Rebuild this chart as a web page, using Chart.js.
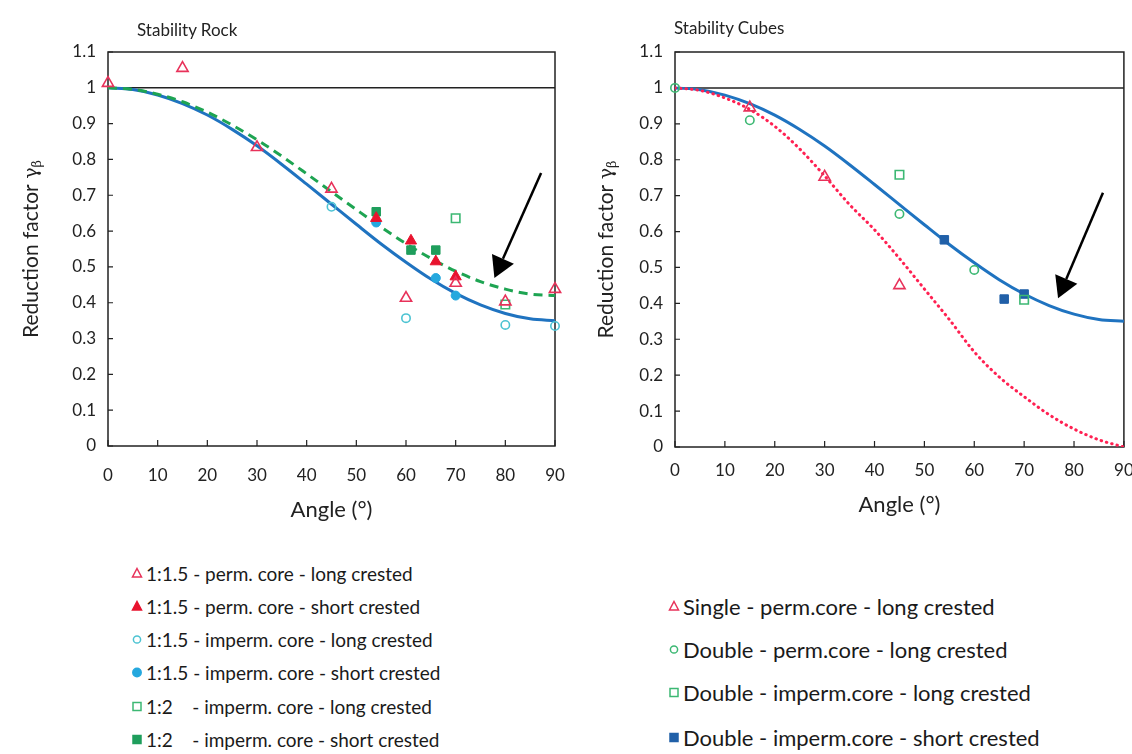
<!DOCTYPE html>
<html>
<head>
<meta charset="utf-8">
<script src="https://cdn.jsdelivr.net/npm/chart.js@4.4.1/dist/chart.umd.min.js"></script>
<style>
  html, body { margin: 0; padding: 0; background: #fff; }
  body { width: 1132px; height: 754px; position: relative; overflow: hidden; font-family: Lato, "Open Sans", sans-serif; color: #222; }
  canvas { position: absolute; top: 0; }
  #rock { left: 0; }
  #cubes { left: 570px; }
  .title { position: absolute; font-size: 17px; color: #222; white-space: nowrap; }
  .legend { position: absolute; }
  .legend .row { position: absolute; left: 0; height: 24px; white-space: pre; display: flex; align-items: center; color: #1a1a1a; }
  .legend svg { flex: none; }
</style>
</head>
<body>
<canvas id="rock" width="570" height="540"></canvas>
<canvas id="cubes" width="562" height="540"></canvas>
<div class="title" style="left:137px; top:19px;">Stability Rock</div>
<div class="title" style="left:674px; top:17px;">Stability Cubes</div>
<div class="legend" id="legRock" style="left:131px; top:0;"></div>
<div class="legend" id="legCubes" style="left:668px; top:0;"></div>
<script>
// ---- axis ticks ----
const angleTicks = [0, 10, 20, 30, 40, 50, 60, 70, 80, 90];
const factorTicks = [0, 0.1, 0.2, 0.3, 0.4, 0.5, 0.6, 0.7, 0.8, 0.9, 1, 1.1];

// ---- Stability Rock: measured points ----
const rockPermLongAngle   = [0, 15, 30, 45, 60, 70, 80, 90];
const rockPermLongValue   = [1.013, 1.055, 0.834, 0.718, 0.413, 0.455, 0.403, 0.438];
const rockPermShortAngle  = [54, 61, 66, 70];
const rockPermShortValue  = [0.636, 0.573, 0.515, 0.473];
const rockImpLongAngle    = [45, 60, 80, 90];
const rockImpLongValue    = [0.668, 0.357, 0.338, 0.335];
const rockImpShortAngle   = [54, 66, 70];
const rockImpShortValue   = [0.624, 0.469, 0.42];
const rock12LongAngle     = [70, 80];
const rock12LongValue     = [0.636, 0.395];
const rock12ShortAngle    = [54, 61, 66];
const rock12ShortValue    = [0.654, 0.547, 0.547];

// ---- Stability Cubes: measured points ----
const cubeSinglePermLongAngle  = [15, 30, 45];
const cubeSinglePermLongValue  = [0.945, 0.752, 0.45];
const cubeDoublePermLongAngle  = [0, 15, 45, 60];
const cubeDoublePermLongValue  = [1.0, 0.91, 0.649, 0.493];
const cubeDoubleImpLongAngle   = [45, 70];
const cubeDoubleImpLongValue   = [0.758, 0.41];
const cubeDoubleImpShortAngle  = [54, 66, 70];
const cubeDoubleImpShortValue  = [0.577, 0.412, 0.426];

// ---- design curves, read every 5 degrees ----
const curveAngle      = [0, 5, 10, 15, 20, 25, 30, 35, 40, 45, 50, 55, 60, 65, 70, 75, 80, 85, 90];
const curveBlue       = [1.0, 0.995, 0.98, 0.956, 0.924, 0.884, 0.838, 0.786, 0.731, 0.675, 0.619, 0.564, 0.513, 0.466, 0.426, 0.394, 0.37, 0.355, 0.35];
const curveGreenRock  = [1.0, 0.996, 0.982, 0.961, 0.932, 0.896, 0.855, 0.809, 0.76, 0.71, 0.66, 0.611, 0.565, 0.524, 0.488, 0.459, 0.438, 0.424, 0.42];
const curveRedCubes   = [1.0, 0.993, 0.972, 0.94, 0.893, 0.83, 0.755, 0.675, 0.605, 0.525, 0.44, 0.355, 0.265, 0.195, 0.14, 0.09, 0.05, 0.02, 0.0];
const referenceAngle  = [0, 90];
const referenceValue  = [1, 1];

// ---- legend labels ----
const rockLabels = [
  '1:1.5 - perm. core - long crested',
  '1:1.5 - perm. core - short crested',
  '1:1.5 - imperm. core - long crested',
  '1:1.5 - imperm. core - short crested',
  '1:2    - imperm. core - long crested',
  '1:2    - imperm. core - short crested'
];
const cubeLabels = [
  'Single - perm.core - long crested',
  'Double - perm.core - long crested',
  'Double - imperm.core - long crested',
  'Double - imperm.core - short crested'
];

const pts = (xs, ys) => xs.map((x, i) => ({ x, y: ys[i] }));

const RED_OPEN = '#e8325a', RED_FILL = '#e8132e';
const CYAN_OPEN = '#4cc3d2', CYAN_FILL = '#25a8de';
const GREEN_OPEN = '#3cb873', GREEN_FILL = '#1f9e5c';
const BLUE_LINE = '#1f73c0', BLUE_FILL = '#2160a8';
const GREEN_DASH = '#1ea452', RED_DOT = '#ff2152';

function marker(label, data, style, color, filled, radius) {
  return {
    label, data, type: 'scatter', order: 0, clip: false,
    pointStyle: style, pointRadius: radius, pointHoverRadius: radius,
    borderColor: color, pointBorderWidth: filled ? 1 : 1.6,
    backgroundColor: filled ? color : 'rgba(255,255,255,0)'
  };
}
function curve(label, data, color, width, dash, cap, order) {
  return {
    label, data, type: 'scatter', showLine: true, order,
    borderColor: color, borderWidth: width, borderDash: dash, borderCapStyle: cap,
    pointRadius: 0, pointHoverRadius: 0, cubicInterpolationMode: 'monotone', fill: false
  };
}

// frame, inside tick marks, axis titles and arrow annotation
const decor = {
  id: 'decor',
  beforeDatasetsDraw(chart) {
    const { ctx, chartArea: a, scales: { x, y } } = chart;
    ctx.save();
    ctx.strokeStyle = '#222';
    ctx.lineWidth = 1.5;
    ctx.strokeRect(a.left, a.top, a.right - a.left, a.bottom - a.top);
    ctx.lineWidth = 1.2;
    ctx.beginPath();
    angleTicks.forEach(v => { const px = x.getPixelForValue(v); ctx.moveTo(px, a.bottom); ctx.lineTo(px, a.bottom - 6); });
    factorTicks.forEach(v => { const py = y.getPixelForValue(v); ctx.moveTo(a.left, py); ctx.lineTo(a.left + 5, py); });
    ctx.stroke();
    ctx.restore();
  },
  afterDatasetsDraw(chart, args, opts) {
    const { ctx, chartArea: a, scales: { x, y } } = chart;
    ctx.save();
    // arrow
    const x0 = x.getPixelForValue(opts.arrowFrom[0]), y0 = y.getPixelForValue(opts.arrowFrom[1]);
    const x1 = x.getPixelForValue(opts.arrowTo[0]), y1 = y.getPixelForValue(opts.arrowTo[1]);
    const ang = Math.atan2(y1 - y0, x1 - x0), headLen = 21, headHalf = 12;
    const bx = x1 - Math.cos(ang) * headLen, by = y1 - Math.sin(ang) * headLen;
    ctx.strokeStyle = '#000'; ctx.fillStyle = '#000'; ctx.lineWidth = 2.5;
    ctx.beginPath(); ctx.moveTo(x0, y0); ctx.lineTo(bx, by); ctx.stroke();
    ctx.beginPath();
    ctx.moveTo(x1, y1);
    ctx.lineTo(bx + Math.sin(ang) * headHalf, by - Math.cos(ang) * headHalf);
    ctx.lineTo(bx - Math.sin(ang) * headHalf, by + Math.cos(ang) * headHalf);
    ctx.closePath(); ctx.fill();
    // axis titles
    ctx.fillStyle = '#222';
    ctx.font = '22px Lato, "Open Sans", sans-serif';
    ctx.textAlign = 'center'; ctx.textBaseline = 'middle';
    ctx.fillText('Angle (°)', (a.left + a.right) / 2, a.bottom + opts.xTitleGap);
    ctx.translate(opts.yTitleX, (a.top + a.bottom) / 2);
    ctx.rotate(-Math.PI / 2);
    const main = 'Reduction factor ';
    ctx.font = '21px Lato, "Open Sans", sans-serif';
    const w1 = ctx.measureText(main).width;
    ctx.font = '19px "DejaVu Serif", serif';
    const w2 = ctx.measureText('γ').width;
    ctx.font = '13px "DejaVu Serif", serif';
    const w3 = ctx.measureText('β').width;
    let sx = -(w1 + w2 + w3) / 2;
    ctx.textAlign = 'left';
    ctx.font = '21px Lato, "Open Sans", sans-serif';
    ctx.fillText(main, sx, 0); sx += w1;
    ctx.font = '19px "DejaVu Serif", serif';
    ctx.fillText('γ', sx, 1); sx += w2;
    ctx.font = '13px "DejaVu Serif", serif';
    ctx.fillText('β', sx, 7);
    ctx.restore();
  }
};

function makeChart(id, datasets, cfg) {
  return new Chart(document.getElementById(id), {
    type: 'scatter',
    data: { datasets },
    plugins: [decor],
    options: {
      responsive: false, animation: false, devicePixelRatio: 1,
      layout: { padding: { left: 0, right: cfg.padRight, top: 52, bottom: 0 } },
      plugins: {
        legend: { display: false }, tooltip: { enabled: false },
        decor: { arrowFrom: cfg.arrowFrom, arrowTo: cfg.arrowTo, xTitleGap: cfg.xTitleGap, yTitleX: cfg.yTitleX }
      },
      scales: {
        x: {
          type: 'linear', min: 0, max: 90,
          afterBuildTicks: s => { s.ticks = angleTicks.map(v => ({ value: v })); },
          afterFit: s => { s.height = cfg.xHeight; s.paddingLeft = 0; s.paddingRight = 0; },
          grid: { display: false, drawTicks: false }, border: { display: false },
          ticks: { color: '#222', font: { size: 17, family: 'Lato, "Open Sans", sans-serif' }, padding: cfg.xTickPad, maxRotation: 0 }
        },
        y: {
          type: 'linear', min: 0, max: 1.1,
          afterBuildTicks: s => { s.ticks = factorTicks.map(v => ({ value: v })); },
          afterFit: s => { s.width = cfg.yWidth; s.paddingTop = 0; s.paddingBottom = 0; },
          grid: { display: false, drawTicks: false }, border: { display: false },
          ticks: { color: '#222', font: { size: 17, family: 'Lato, "Open Sans", sans-serif' }, padding: 12, callback: v => String(v) }
        }
      }
    }
  });
}

makeChart('rock', [
  marker(rockLabels[0], pts(rockPermLongAngle, rockPermLongValue), 'triangle', RED_OPEN, false, 6.5),
  marker(rockLabels[1], pts(rockPermShortAngle, rockPermShortValue), 'triangle', RED_FILL, true, 6.5),
  marker(rockLabels[2], pts(rockImpLongAngle, rockImpLongValue), 'circle', CYAN_OPEN, false, 4.2),
  marker(rockLabels[3], pts(rockImpShortAngle, rockImpShortValue), 'circle', CYAN_FILL, true, 4.5),
  marker(rockLabels[4], pts(rock12LongAngle, rock12LongValue), 'rect', GREEN_OPEN, false, 6),
  marker(rockLabels[5], pts(rock12ShortAngle, rock12ShortValue), 'rect', GREEN_FILL, true, 6),
  curve('1:2 fit', pts(curveAngle, curveGreenRock), GREEN_DASH, 3, [9, 6], 'butt', 1),
  curve('1:1.5 fit', pts(curveAngle, curveBlue), BLUE_LINE, 3, [], 'butt', 2),
  curve('reference', pts(referenceAngle, referenceValue), '#222', 1.5, [], 'butt', 3)
], { padRight: 15, xHeight: 94, yWidth: 108, xTickPad: 19, xTitleGap: 64, yTitleX: 31,
     arrowFrom: [87.2, 0.762], arrowTo: [77.8, 0.469] });

makeChart('cubes', [
  marker(cubeLabels[0], pts(cubeSinglePermLongAngle, cubeSinglePermLongValue), 'triangle', RED_OPEN, false, 6.5),
  marker(cubeLabels[1], pts(cubeDoublePermLongAngle, cubeDoublePermLongValue), 'circle', GREEN_OPEN, false, 4.2),
  marker(cubeLabels[2], pts(cubeDoubleImpLongAngle, cubeDoubleImpLongValue), 'rect', GREEN_OPEN, false, 6),
  marker(cubeLabels[3], pts(cubeDoubleImpShortAngle, cubeDoubleImpShortValue), 'rect', BLUE_FILL, true, 6),
  curve('single', pts(curveAngle, curveRedCubes), RED_DOT, 3, [0.5, 5], 'round', 1),
  curve('double', pts(curveAngle, curveBlue), BLUE_LINE, 3, [], 'butt', 2),
  curve('reference', pts(referenceAngle, referenceValue), '#222', 1.5, [], 'butt', 3)
], { padRight: 6, xHeight: 93, yWidth: 105, xTickPad: 13, xTitleGap: 58, yTitleX: 36,
     arrowFrom: [85.8, 0.708], arrowTo: [76.8, 0.414] });

// ---- HTML legends ----
function icon(style, color, filled) {
  const f = filled ? color : 'none';
  let shape;
  if (style === 'triangle') shape = `<polygon points="6,1.5 10.5,10 1.5,10" fill="${f}" stroke="${color}" stroke-width="1.5"/>`;
  else if (style === 'circle') shape = `<circle cx="6" cy="6.5" r="${filled ? 4.2 : 3.6}" fill="${f}" stroke="${color}" stroke-width="1.5"/>`;
  else shape = `<rect x="2" y="2.5" width="8" height="8" fill="${f}" stroke="${color}" stroke-width="1.5"/>`;
  return `<svg width="12" height="13" viewBox="0 0 12 13">${shape}</svg>`;
}
function buildLegend(id, labels, icons, rows, fontSize, gap) {
  const el = document.getElementById(id);
  labels.forEach((t, i) => {
    const r = document.createElement('div');
    r.className = 'row';
    r.style.top = (rows[i] - 12) + 'px';
    r.style.fontSize = fontSize + 'px';
    r.innerHTML = icons[i] + `<span style="margin-left:${gap}px">${t}</span>`;
    el.appendChild(r);
  });
}
buildLegend('legRock', rockLabels, [
  icon('triangle', RED_OPEN, false), icon('triangle', RED_FILL, true),
  icon('circle', CYAN_OPEN, false), icon('circle', CYAN_FILL, true),
  icon('rect', GREEN_OPEN, false), icon('rect', GREEN_FILL, true)
], [573, 606, 639, 672, 706, 739], 19, 3);
buildLegend('legCubes', cubeLabels, [
  icon('triangle', RED_OPEN, false), icon('circle', GREEN_OPEN, false),
  icon('rect', GREEN_OPEN, false), icon('rect', BLUE_FILL, true)
], [606, 649, 692, 737], 22, 3);
</script>
</body>
</html>
